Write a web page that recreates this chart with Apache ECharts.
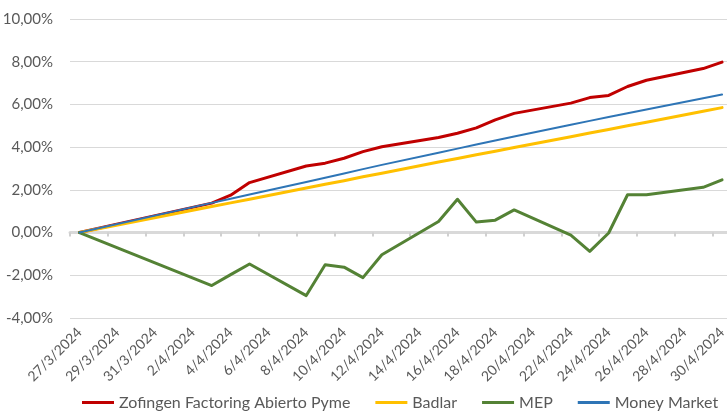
<!DOCTYPE html>
<html>
<head>
<meta charset="utf-8">
<script src="https://cdn.jsdelivr.net/npm/echarts@6/dist/echarts.min.js"></script>
<style>
  html, body { margin: 0; padding: 0; background: #ffffff; }
  #chart { width: 727px; height: 414px; }
</style>
</head>
<body>
<div id="chart"></div>
<script>
// Calendar days shown on the category axis (27/3/2024 .. 30/4/2024)
const categories = [
  '27/3/2024','28/3/2024','29/3/2024','30/3/2024','31/3/2024','1/4/2024','2/4/2024',
  '3/4/2024','4/4/2024','5/4/2024','6/4/2024','7/4/2024','8/4/2024','9/4/2024',
  '10/4/2024','11/4/2024','12/4/2024','13/4/2024','14/4/2024','15/4/2024','16/4/2024',
  '17/4/2024','18/4/2024','19/4/2024','20/4/2024','21/4/2024','22/4/2024','23/4/2024',
  '24/4/2024','25/4/2024','26/4/2024','27/4/2024','28/4/2024','29/4/2024','30/4/2024'
];

// Cumulative return in %, business days only (null = no quote that day)
const zofingen = [
  0.00, null, null, null, null, null, null,
  1.38, 1.75, 2.34, null, null, 3.12, 3.25,
  3.48, 3.79, 4.02, null, null, 4.45, 4.65,
  4.90, 5.28, 5.58, null, null, 6.06, 6.32,
  6.42, 6.84, 7.13, null, null, 7.68, 7.98
];
const badlar = [
  0.00, null, null, null, null, null, null,
  1.22, 1.39, 1.56, null, null, 2.09, 2.26,
  2.43, 2.61, 2.78, null, null, 3.30, 3.47,
  3.64, 3.81, 3.98, null, null, 4.49, 4.66,
  4.83, 5.00, 5.17, null, null, 5.68, 5.85
];
const mep = [
  0.00, null, null, null, null, null, null,
  -2.48, -1.97, -1.47, null, null, -2.95, -1.51,
  -1.62, -2.11, -1.04, null, null, 0.52, 1.56,
  0.49, 0.58, 1.06, null, null, -0.12, -0.88,
  -0.02, 1.77, 1.77, null, null, 2.12, 2.47
];
const moneyMarket = [
  0.00, null, null, null, null, null, null,
  1.39, 1.58, 1.78, null, null, 2.37, 2.57,
  2.77, 2.97, 3.17, null, null, 3.74, 3.93,
  4.12, 4.31, 4.50, null, null, 5.05, 5.23,
  5.41, 5.59, 5.76, null, null, 6.29, 6.46
];

const seriesNames = ['Zofingen Factoring Abierto Pyme', 'Badlar', 'MEP', 'Money Market'];
const yTicks = { min: -4, max: 10, step: 2 };

const FONT = 'Lato';
const TEXT = '#595959';
const GRID = '#d9d9d9';

function lineSeries(name, data, color, width) {
  return {
    name: name,
    type: 'line',
    data: data,
    connectNulls: true,
    symbol: 'none',
    smooth: false,
    lineStyle: { color: color, width: width, cap: 'round', join: 'round' },
    itemStyle: { color: color },
    emphasis: { disabled: true },
    animation: false
  };
}

const chart = echarts.init(document.getElementById('chart'), null, { renderer: 'canvas' });

chart.setOption({
  animation: false,
  backgroundColor: '#ffffff',
  grid: {
    left: 70, top: 19, width: 661.5, height: 299,
    containLabel: false, outerBoundsMode: 'none'
  },
  legend: {
    left: 82, top: 394.5, padding: 0,
    itemWidth: 32, itemHeight: 3, itemGap: 25,
    icon: 'rect',
    textStyle: { fontFamily: FONT, fontSize: 16, color: TEXT },
    data: seriesNames
  },
  xAxis: [
    {
      // axis line and ticks sitting on the 0% line
      type: 'category',
      data: categories,
      boundaryGap: true,
      axisLine: { show: true, onZero: true, lineStyle: { color: GRID, width: 3 } },
      axisTick: { show: true, interval: 1, length: 4, lineStyle: { color: '#d0d0d0', width: 2 } },
      axisLabel: { show: false },
      splitLine: { show: false }
    },
    {
      // date labels along the bottom of the plot
      type: 'category',
      data: categories,
      boundaryGap: true,
      position: 'bottom',
      axisLine: { show: false, onZero: false },
      axisTick: { show: false },
      splitLine: { show: false },
      axisLabel: {
        show: true, interval: 1, rotate: 45, margin: 12,
        fontFamily: FONT, fontSize: 14, color: TEXT
      }
    }
  ],
  yAxis: {
    type: 'value',
    min: yTicks.min, max: yTicks.max, interval: yTicks.step,
    axisLine: { show: false },
    axisTick: { show: false },
    splitLine: { show: true, lineStyle: { color: GRID, width: 1 } },
    axisLabel: {
      margin: 17, fontFamily: FONT, fontSize: 15, color: TEXT,
      formatter: v => v.toFixed(2).replace('.', ',') + '%'
    }
  },
  series: [
    lineSeries(seriesNames[0], zofingen, '#c00000', 3),
    lineSeries(seriesNames[1], badlar, '#ffc000', 3),
    lineSeries(seriesNames[2], mep, '#548235', 3),
    lineSeries(seriesNames[3], moneyMarket, '#2e75b6', 2)
  ]
});
</script>
</body>
</html>
